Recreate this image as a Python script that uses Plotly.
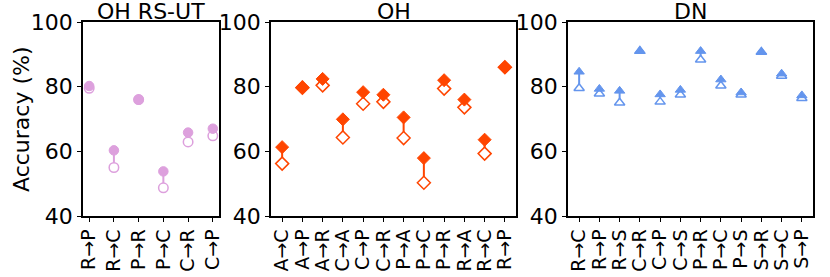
import plotly.graph_objects as go

W, H = 830, 277

# ---- data ----
oh_rsut_labels = ["R→P", "R→C", "P→R", "P→C", "C→R", "C→P"]
oh_rsut_after = [80.2, 60.3, 76.0, 53.8, 65.8, 67.0]
oh_rsut_before = [79.5, 55.0, 76.0, 48.7, 62.9, 64.8]

oh_labels = ["A→C", "A→P", "A→R", "C→A", "C→P", "C→R",
             "P→A", "P→C", "P→R", "R→A", "R→C", "R→P"]
oh_after = [61.3, 79.8, 82.4, 69.9, 78.3, 77.5, 70.5, 57.9, 82.0, 76.0, 63.6, 86.0]
oh_before = [56.2, 79.7, 80.4, 64.3, 74.7, 75.3, 64.1, 50.3, 79.4, 73.6, 59.3, 86.0]

dn_labels = ["R→C", "R→P", "R→S", "C→R", "C→P", "C→S",
             "P→R", "P→C", "P→S", "S→R", "S→C", "S→P"]
dn_after = [84.6, 79.3, 78.7, 91.0, 77.6, 79.0, 91.0, 82.2, 78.2, 90.7, 84.0, 77.3]
dn_before = [79.5, 77.8, 75.0, 91.0, 75.3, 77.5, 88.3, 80.3, 77.5, 90.7, 83.3, 76.4]

yticks = [40, 60, 80, 100]

panels = [
    dict(title="OH RS-UT", labels=oh_rsut_labels, after=oh_rsut_after, before=oh_rsut_before,
         color="#DDA0DD", symbol="circle", size=9.5, dom=(83, 219)),
    dict(title="OH", labels=oh_labels, after=oh_after, before=oh_before,
         color="#FF4500", symbol="diamond", size=10, dom=(271, 516)),
    dict(title="DN", labels=dn_labels, after=dn_after, before=dn_before,
         color="#6495ED", symbol="triangle-up", size=9, dom=(568, 813)),
]

FONT = "DejaVu Sans"
FS = 22
FSX = 19
y_top, y_bot = 22, 216

fig = go.Figure()
annotations = []
for k, p in enumerate(panels):
    ax = "" if k == 0 else str(k + 1)
    xs = list(range(len(p["labels"])))
    lx, ly = [], []
    for i, (a, b) in enumerate(zip(p["after"], p["before"])):
        lx += [i, i, None]
        ly += [b, a, None]
    fig.add_trace(go.Scatter(x=lx, y=ly, mode="lines", line=dict(color=p["color"], width=2),
                             xaxis="x" + ax, yaxis="y" + ax, showlegend=False, hoverinfo="skip"))
    fig.add_trace(go.Scatter(x=xs, y=p["before"], mode="markers",
                             marker=dict(symbol=p["symbol"], size=p["size"], color="white",
                                         line=dict(color=p["color"], width=1.5)),
                             xaxis="x" + ax, yaxis="y" + ax, showlegend=False))
    fig.add_trace(go.Scatter(x=xs, y=p["after"], mode="markers",
                             marker=dict(symbol=p["symbol"], size=p["size"], color=p["color"],
                                         line=dict(color=p["color"], width=1)),
                             xaxis="x" + ax, yaxis="y" + ax, showlegend=False))
    n = len(xs)
    d0, d1 = p["dom"]
    fig.update_layout({
        "xaxis" + ax: dict(domain=[d0 / W, d1 / W], anchor="y" + ax, automargin=False,
                           range=[-0.05 * (n - 1), (n - 1) * 1.05],
                           tickvals=xs, ticktext=p["labels"], tickangle=-90,
                           showline=True, mirror=True, linecolor="black", linewidth=1.6,
                           ticks="outside", ticklen=4, tickwidth=1, tickcolor="black",
                           showgrid=False, zeroline=False,
                           tickfont=dict(family=FONT, size=FSX, color="black")),
        "yaxis" + ax: dict(domain=[1 - y_bot / H, 1 - y_top / H], anchor="x" + ax, automargin=False,
                           range=[40, 100], tickvals=yticks,
                           showline=True, mirror=True, linecolor="black", linewidth=1.6,
                           ticks="outside", ticklen=4, tickwidth=1, tickcolor="black",
                           showgrid=False, zeroline=False,
                           tickfont=dict(family=FONT, size=FS, color="black")),
    })
    annotations.append(dict(text=p["title"], x=(d0 + d1) / 2 / W, y=1 - 11 / H,
                            xref="paper", yref="paper", xanchor="center", yanchor="middle",
                            showarrow=False, font=dict(family=FONT, size=FS, color="black")))

annotations.append(dict(text="Accuracy (%)", x=21 / W, y=1 - 119 / H, xref="paper", yref="paper",
                        xanchor="center", yanchor="middle", textangle=-90, showarrow=False,
                        font=dict(family=FONT, size=FS, color="black")))

fig.update_layout(width=W, height=H, margin=dict(l=0, r=0, t=0, b=0),
                  plot_bgcolor="white", paper_bgcolor="white",
                  annotations=annotations, showlegend=False)

fig.write_html("out.html", config={"displayModeBar": False},
               post_script="document.body.style.margin='0';document.body.style.overflow='hidden';")
